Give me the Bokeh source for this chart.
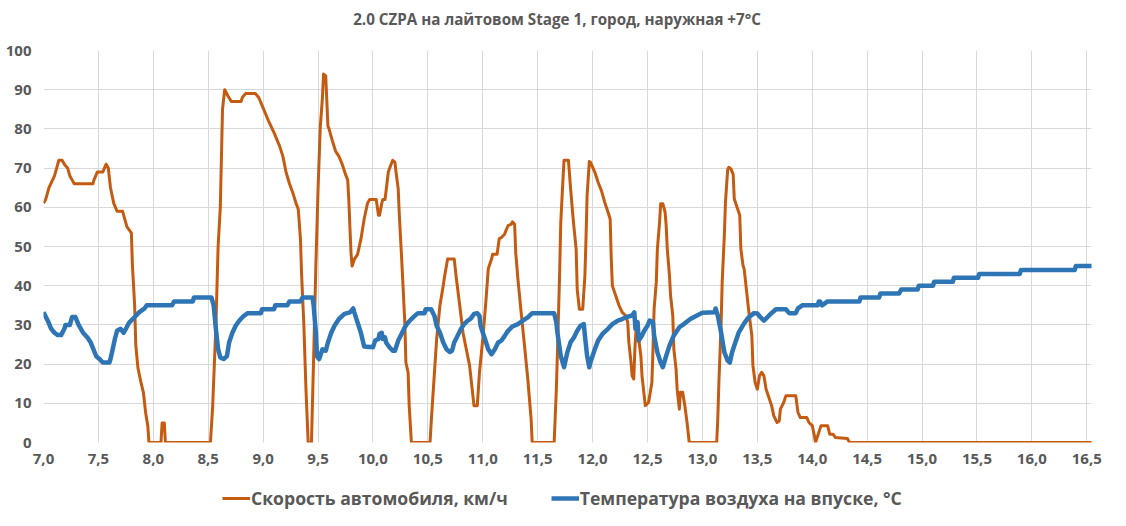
from bokeh.plotting import figure
from bokeh.layouts import column
from bokeh.models import Range1d, FixedTicker, CustomJSTickFormatter, Legend, LegendItem, Label
from bokeh.embed import file_html
from bokeh.resources import INLINE

title_text = "2.0 CZPA на лайтовом Stage 1, город, наружная +7°C"
speed_name = "Скорость автомобиля, км/ч"
temp_name = "Температура воздуха на впуске, °C"

speed_t = [7.00, 7.02, 7.05, 7.10, 7.13, 7.14, 7.17, 7.19, 7.22, 7.24, 7.26, 7.28, 7.45, 7.46, 7.49, 7.54, 7.57, 7.59,
           7.61, 7.64, 7.67, 7.72, 7.74, 7.76, 7.80, 7.81, 7.83, 7.84, 7.86, 7.89, 7.91, 7.93, 7.95, 7.96, 8.07, 8.08,
           8.10, 8.11, 8.52, 8.54, 8.57, 8.59, 8.61, 8.63, 8.65, 8.68, 8.71, 8.80, 8.81, 8.84, 8.93, 8.96, 8.99, 9.02,
           9.05, 9.10, 9.15, 9.18, 9.21, 9.24, 9.27, 9.30, 9.32, 9.34, 9.35, 9.37, 9.39, 9.40, 9.41, 9.44, 9.46, 9.48,
           9.50, 9.52, 9.54, 9.55, 9.57, 9.59, 9.60, 9.63, 9.66, 9.69, 9.72, 9.75, 9.77, 9.78, 9.79, 9.80, 9.81, 9.83,
           9.86, 9.89, 9.92, 9.95, 9.97, 10.03, 10.05, 10.06, 10.08, 10.09, 10.11, 10.14, 10.16, 10.18, 10.20, 10.21,
           10.23, 10.24, 10.26, 10.29, 10.30, 10.32, 10.33, 10.35, 10.52, 10.53, 10.55, 10.58, 10.61, 10.64, 10.65,
           10.68, 10.74, 10.76, 10.79, 10.82, 10.85, 10.88, 10.90, 10.92, 10.95, 10.97, 11.00, 11.03, 11.05, 11.08,
           11.09, 11.13, 11.15, 11.17, 11.20, 11.21, 11.23, 11.26, 11.27, 11.29, 11.30, 11.32, 11.35, 11.38, 11.41,
           11.44, 11.45, 11.65, 11.67, 11.68, 11.70, 11.71, 11.73, 11.74, 11.78, 11.80, 11.82, 11.83, 11.85, 11.86,
           11.88, 11.91, 11.93, 11.94, 11.95, 11.97, 11.98, 12.02, 12.05, 12.08, 12.11, 12.14, 12.16, 12.17, 12.18,
           12.21, 12.24, 12.27, 12.30, 12.32, 12.33, 12.35, 12.36, 12.375, 12.385, 12.395, 12.41, 12.42, 12.44, 12.45,
           12.47, 12.48, 12.51, 12.52, 12.54, 12.55, 12.56, 12.58, 12.59, 12.61, 12.62, 12.64, 12.66, 12.67, 12.68,
           12.70, 12.71, 12.73, 12.74, 12.76, 12.77, 12.79, 12.80, 12.82, 12.84, 12.86, 12.88, 13.13, 13.14, 13.15,
           13.17, 13.18, 13.20, 13.21, 13.23, 13.24, 13.26, 13.28, 13.29, 13.32, 13.34, 13.35, 13.37, 13.38, 13.40,
           13.42, 13.45, 13.46, 13.48, 13.50, 13.52, 13.54, 13.56, 13.58, 13.61, 13.63, 13.65, 13.68, 13.70, 13.71,
           13.74, 13.76, 13.85, 13.87, 13.89, 13.95, 13.97, 14.00, 14.02, 14.03, 14.05, 14.08, 14.14, 14.16, 14.19,
           14.21, 14.32, 14.34, 16.55]
speed_kmh = [61, 62, 65, 68, 71, 72, 72, 71, 70, 68, 67, 66, 66, 67, 69, 69, 71, 70,
             65, 61, 59, 59, 57, 55, 53.5, 45, 35, 25, 19, 15, 12.7, 7.6, 4.2, 0, 0, 5,
             5, 0, 0, 9, 30, 50, 60, 85, 90, 88.4, 87, 87, 88, 89, 89, 88, 86, 84,
             82, 79, 75.6, 73, 68.8, 66, 63.7, 61, 59.5, 51.8, 43, 30.6, 13.6, 6.8, 0, 0, 22, 45,
             64.6, 80.3, 88, 94, 93.5, 80.7, 80, 77, 74.3, 73, 71, 68.4, 67, 62, 55, 48.4, 45, 46.7,
             48, 51.8, 57, 61, 62, 62, 58, 58, 61, 62, 62, 69, 70.6, 72, 71.5, 69,
             64.7, 58, 47.7, 30.6, 20.4, 17.9, 9.4, 0, 0, 5, 13.6, 26.4, 35, 40, 42,
             46.8, 46.8, 41.7, 35, 28, 23.8, 19.6, 14.5, 9.4, 9.4, 17.9, 26.4, 36.6, 44.3, 46.8,
             48, 48, 52, 52.3, 53.2, 54, 55.3, 55.7, 56.3, 55.7, 48.5, 41.7, 33, 24.7, 16.2,
             6, 0, 0, 13.6, 23, 43.4, 56, 67, 72, 72, 64.7, 58, 55, 49.4, 39,
             34, 34, 42.6, 52, 63, 71.7, 71.5, 69, 66.4, 64.3, 61.3, 58.8, 57, 46.8, 40,
             37.5, 35, 33.2, 32.4, 30.7, 25.6, 20.4, 17, 16.2, 23.8, 28.5, 27.3, 26.4, 22, 17,
             11.9, 9.4, 10.2, 11.9, 15.3, 23.8, 34, 40.9, 49.4, 56.2, 60.9, 60.9, 58.8, 55.4, 49.4,
             42.6, 37.5, 32.4, 23.8, 18.7, 13.6, 8.5, 12.8, 12.8, 9.4, 5.1, 0, 0, 6, 15.3,
             30, 40.9, 53, 61.3, 69.6, 70.2, 69.8, 68.4, 62.2, 59.6, 58, 49.4, 45.1, 44.3, 39.2,
             34, 27.3, 19.6, 15.3, 13.6, 17, 17.9, 17, 13.6, 11.1, 9.4, 6.8, 5.1, 5.5, 8.5,
             10.2, 11.9, 11.9, 7.7, 6.4, 6.4, 5.1, 4.3, 1.7, 0, 1.7, 4.3, 4.3, 2.1, 2.1,
             1.3, 1.0, 0, 0]

temp_t = [7.00, 7.04, 7.07, 7.10, 7.13, 7.16, 7.19, 7.20, 7.24, 7.26, 7.29, 7.32, 7.36, 7.40, 7.43, 7.46, 7.48, 7.51,
          7.54, 7.60, 7.61, 7.63, 7.65, 7.67, 7.70, 7.73, 7.75, 7.78, 7.83, 7.87, 7.92, 7.94, 8.17, 8.19, 8.36, 8.37,
          8.53, 8.55, 8.57, 8.59, 8.61, 8.64, 8.67, 8.69, 8.72, 8.75, 8.78, 8.82, 8.86, 8.98, 8.99, 9.10, 9.11, 9.22,
          9.24, 9.34, 9.36, 9.45, 9.46, 9.48, 9.49, 9.51, 9.54, 9.57, 9.59, 9.62, 9.65, 9.69, 9.74, 9.79, 9.82, 9.83,
          9.86, 9.89, 9.92, 10.00, 10.02, 10.05, 10.06, 10.08, 10.09, 10.11, 10.12, 10.15, 10.18, 10.20, 10.23, 10.26,
          10.29, 10.32, 10.35, 10.38, 10.41, 10.47, 10.48, 10.53, 10.56, 10.58, 10.61, 10.64, 10.67, 10.70, 10.72,
          10.74, 10.77, 10.80, 10.83, 10.86, 10.89, 10.92, 10.95, 10.97, 10.98, 11.02, 11.05, 11.08, 11.11, 11.14,
          11.17, 11.20, 11.23, 11.27, 11.32, 11.36, 11.41, 11.45, 11.65, 11.67, 11.68, 11.71, 11.74, 11.77, 11.80,
          11.83, 11.86, 11.89, 11.92, 11.93, 11.95, 11.97, 11.98, 12.02, 12.05, 12.09, 12.14, 12.18, 12.23, 12.27,
          12.30, 12.36, 12.38, 12.39, 12.41, 12.42, 12.45, 12.47, 12.50, 12.52, 12.55, 12.56, 12.59, 12.62, 12.64,
          12.67, 12.70, 12.74, 12.79, 12.83, 12.89, 12.95, 13.00, 13.11, 13.12, 13.14, 13.17, 13.20, 13.23, 13.25,
          13.27, 13.30, 13.33, 13.38, 13.42, 13.47, 13.50, 13.53, 13.56, 13.59, 13.62, 13.67, 13.76, 13.79, 13.85,
          13.87, 13.91, 14.05, 14.06, 14.07, 14.09, 14.14, 14.43, 14.44, 14.61, 14.62, 14.79, 14.81, 14.96, 14.97,
          15.10, 15.11, 15.28, 15.29, 15.51, 15.52, 15.89, 15.90, 16.39, 16.40, 16.55]
temp_c = [33.2, 31, 29, 28, 27.4, 27.4, 29, 30, 30, 32, 32, 30, 28, 26.8, 25.5, 23.4, 22, 21.3,
          20.4, 20.4, 21.3, 23.8, 26.4, 28.5, 29, 28, 29, 30.6, 32, 33.2, 34.2, 35, 35, 36, 36, 37,
          37, 34.9, 28.9, 23.8, 21.7, 21.3, 22, 25.5, 28, 29.8, 31, 32.2, 33, 33, 34, 34, 35, 35,
          36, 36, 37, 37, 34.9, 28, 22, 21.3, 23.8, 23.4, 25.5, 28, 29.8, 31.5, 32.8, 33.2, 34.2, 33.2,
          30.6, 28, 24.5, 24.3, 26, 26.4, 27.7, 28, 26.4, 26.8, 25.5, 24.3, 23.4, 23.4, 26, 27.7,
          29.4, 30.6, 31.5, 32.3, 33, 33, 34, 34, 32.3, 29.8, 28, 25.5, 23.8, 23.1, 23.4,
          25.5, 27.2, 28.9, 30.2, 31, 31.6, 32.8, 33, 32.3, 29.8, 26.4, 23.8, 22.5, 23.8, 25.5,
          26, 27.2, 28.5, 29.6, 30.2, 31, 31.9, 33, 33, 30.6, 28, 22.1, 19.2, 23, 25.6,
          26.8, 28.5, 29.8, 30.2, 27.3, 22.1, 19.2, 20.4, 23.8, 26, 27.7, 29, 30.2, 31.1, 31.5,
          31.9, 32.4, 33.2, 29, 30.7, 26, 27.3, 28.5, 29.8, 31.1, 30.7, 27.3, 23, 20.4, 19.2,
          22.1, 24.7, 27.3, 29.4, 30.2, 31.5, 32.4, 33.1, 33.2, 34.2, 32.4, 28.1, 23, 20.9, 20.4,
          23, 25.5, 28, 30.4, 31.9, 33, 32.9, 31.9, 31.1, 31.9, 32.8, 34, 34, 33, 33,
          34.2, 35, 35, 36, 36, 35, 36, 36, 37, 37, 38, 38, 39, 39, 40,
          40, 41, 41, 42, 42, 43, 43, 44, 44, 45, 45]

x_ticks = [7.0 + 0.5 * i for i in range(20)]
y_ticks = [0, 10, 20, 30, 40, 50, 60, 70, 80, 90, 100]

FONT = "Open Sans"
GREY = "#595959"
ORANGE = "#c55a11"
BLUE = "#2e75b6"


def strip(h):
    s = figure(width=1110, height=h, output_backend="svg", toolbar_location=None,
               x_range=Range1d(0, 1), y_range=Range1d(0, 1),
               x_axis_location=None, y_axis_location=None,
               min_border_left=0, min_border_right=0, min_border_top=0, min_border_bottom=0)
    s.outline_line_color = None
    s.grid.visible = False
    s.background_fill_color = "white"
    s.border_fill_color = "white"
    return s


# title strip
tt = strip(30)
tt.add_layout(Label(x=0.49, y=0.367, text=title_text, text_align="center", text_baseline="middle",
                    text_font=FONT, text_font_size="15.2px", text_font_style="bold", text_color=GREY))

# main chart
p = figure(width=1110, height=443, output_backend="svg", toolbar_location=None,
           x_range=Range1d(7.0, 16.543), y_range=Range1d(0, 100),
           min_border_left=43, min_border_right=19, min_border_top=20, min_border_bottom=31)
p.outline_line_color = None
p.background_fill_color = "white"
p.border_fill_color = "white"

p.line(speed_t, speed_kmh, line_color=ORANGE, line_width=3, line_join="round")
p.line(temp_t, temp_c, line_color=BLUE, line_width=4.5, line_join="round")

p.xaxis.ticker = FixedTicker(ticks=x_ticks)
p.yaxis.ticker = FixedTicker(ticks=y_ticks)
p.xaxis.formatter = CustomJSTickFormatter(code="return tick.toFixed(1).replace('.', ',');")
for ax in (p.xaxis[0], p.yaxis[0]):
    ax.axis_line_color = None
    ax.major_tick_line_color = None
    ax.minor_tick_line_color = None
    ax.major_tick_out = 0
    ax.major_tick_in = 0
    ax.major_label_text_font = FONT
    ax.major_label_text_font_size = "15px"
    ax.major_label_text_font_style = "bold"
    ax.major_label_text_color = GREY
p.xaxis.major_label_standoff = 11
p.yaxis.major_label_standoff = 12

p.xgrid.ticker = FixedTicker(ticks=x_ticks)
p.ygrid.ticker = FixedTicker(ticks=y_ticks)
p.grid.grid_line_color = "#d9d9d9"
p.grid.grid_line_width = 1

# legend strip (series drawn outside the strip's visible range, used only as legend keys)
lg = strip(37)
sp_key = lg.line(speed_t, speed_kmh, line_color=ORANGE, line_width=3)
tp_key = lg.line(temp_t, temp_c, line_color=BLUE, line_width=4.5)

legend = Legend(items=[LegendItem(label=speed_name, renderers=[sp_key]),
                       LegendItem(label=temp_name, renderers=[tp_key])],
                orientation="horizontal", location=(179, 0),
                glyph_width=28, glyph_height=16, label_standoff=1, spacing=43,
                padding=0, margin=0, border_line_color=None, background_fill_alpha=0,
                label_text_font=FONT, label_text_font_size="17.6px", label_text_font_style="bold",
                label_text_color=GREY, label_height=16, label_text_line_height=0.75)
lg.add_layout(legend, "center")

layout = column(tt, p, lg, spacing=0)
open("out.html", "w").write(file_html(layout, INLINE))
